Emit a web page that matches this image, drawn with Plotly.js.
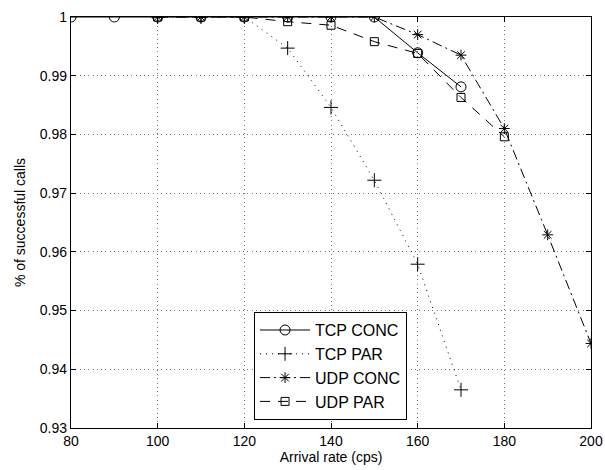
<!DOCTYPE html>
<html>
<head>
<meta charset="utf-8">
<script src="https://cdn.plot.ly/plotly-3.0.1.min.js"></script>
<style>html,body{margin:0;padding:0;background:#fff}#chart{width:605px;height:470px}</style>
</head>
<body>
<div id="chart"></div>
<script>
const tcpConcX = [80, 90, 100, 110, 120, 130, 140, 150, 160, 170];
const tcpConcY = [1, 1, 1, 1, 1, 1, 1, 1, 0.9939, 0.9881];
const tcpParX = [100, 110, 120, 130, 140, 150, 160, 170];
const tcpParY = [1, 1, 1, 0.9947, 0.9846, 0.9722, 0.9579, 0.9365];
const udpConcX = [100, 110, 120, 130, 140, 150, 160, 170, 180, 190, 200];
const udpConcY = [1, 1, 1, 1, 1, 1, 0.9970, 0.9935, 0.9810, 0.9629, 0.9444];
const udpParX = [100, 110, 120, 130, 140, 150, 160, 170, 180];
const udpParY = [1, 1, 1, 0.9992, 0.9986, 0.9958, 0.9938, 0.9863, 0.9796];
const xTicks = [80, 100, 120, 140, 160, 180, 200];
const yTicks = [0.93, 0.94, 0.95, 0.96, 0.97, 0.98, 0.99, 1];
const yTickText = ["0.93", "0.94", "0.95", "0.96", "0.97", "0.98", "0.99", "1"];

const traces = [
  {x: tcpConcX, y: tcpConcY, name: 'TCP CONC', mode: 'lines+markers',
   line: {color: '#000', width: 1, dash: 'solid'},
   marker: {symbol: 'circle-open', size: 10, color: '#000', line: {width: 1}}},
  {x: tcpParX, y: tcpParY, name: 'TCP PAR', mode: 'lines+markers',
   line: {color: '#000', width: 1, dash: '1px,5px'},
   marker: {symbol: 'cross-thin-open', size: 10, color: '#000', line: {width: 1}}},
  {x: udpConcX, y: udpConcY, name: 'UDP CONC', mode: 'lines+markers',
   line: {color: '#000', width: 1, dash: '10px,4px,2px,4px'},
   marker: {symbol: 'asterisk-open', size: 9, color: '#000', line: {width: 1}}},
  {x: udpParX, y: udpParY, name: 'UDP PAR', mode: 'lines+markers',
   line: {color: '#000', width: 1, dash: '10px,8px'},
   marker: {symbol: 'square-open', size: 8, color: '#000', line: {width: 1}}}
];

const axisCommon = {
  showline: true, mirror: 'allticks', linecolor: '#000', linewidth: 1.2,
  ticks: 'inside', ticklen: 5, tickcolor: '#000', tickwidth: 1,
  showgrid: true, gridcolor: '#777', gridwidth: 1, griddash: '1px,3.3px',
  zeroline: false, tickfont: {family: 'Liberation Sans, Arial, sans-serif', size: 14, color: '#000'}
};

const layout = {
  width: 605, height: 470,
  margin: {l: 71, r: 14, t: 17, b: 42},
  paper_bgcolor: '#fff', plot_bgcolor: '#fff',
  showlegend: true,
  font: {family: 'Liberation Sans, Arial, sans-serif', size: 14, color: '#000'},
  xaxis: Object.assign({}, axisCommon, {
    range: [80, 200], tickvals: xTicks, ticktext: xTicks.map(String),
    title: {text: 'Arrival rate (cps)', font: {size: 14}, standoff: 3}
  }),
  yaxis: Object.assign({}, axisCommon, {
    range: [0.93, 1], tickvals: yTicks, ticktext: yTickText,
    title: {text: '% of successful calls', font: {size: 14}, standoff: 10}
  }),
  legend: {
    x: 0.352, y: 0.282, xanchor: 'left', yanchor: 'top',
    bgcolor: '#fff', bordercolor: '#000', borderwidth: 1,
    font: {size: 16, color: '#000'}, itemwidth: 50, tracegroupgap: 0
  }
};

Plotly.newPlot('chart', traces, layout, {staticPlot: true, displayModeBar: false});
</script>
</body>
</html>
